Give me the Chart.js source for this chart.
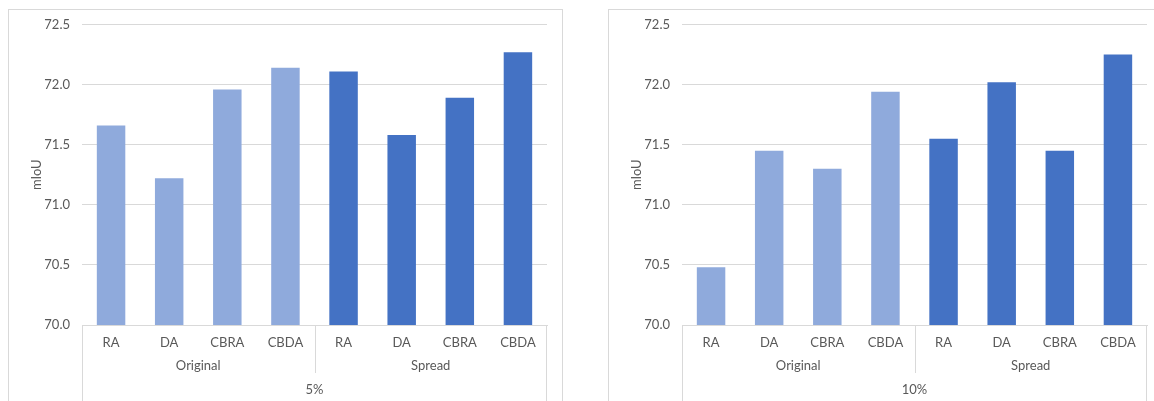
<!DOCTYPE html>
<html>
<head>
<meta charset="utf-8">
<script src="https://cdn.jsdelivr.net/npm/chart.js@4"></script>
<style>
  html, body { margin: 0; padding: 0; background: #fff; overflow: hidden; }
  body { width: 1154px; height: 401px; position: relative; }
  .box { position: absolute; top: 9px; border: 1px solid #d9d9d9; background: #fff; }
  #box5 { left: 8px; }
  #box10 { left: 608px; }
  canvas { display: block; }
</style>
</head>
<body>
<div class="box" id="box5"><canvas id="chart5" width="553" height="400"></canvas></div>
<div class="box" id="box10"><canvas id="chart10" width="553" height="400"></canvas></div>
<script>
const methods = ['RA', 'DA', 'CBRA', 'CBDA']
const groups = ['Original', 'Spread']
const rates = ['5%', '10%']

const original5 = [71.66, 71.22, 71.96, 72.14]
const spread5 = [72.11, 71.58, 71.89, 72.27]
const original10 = [70.48, 71.45, 71.30, 71.94]
const spread10 = [71.55, 72.02, 71.45, 72.25]

const yTicks = { min: 70, max: 72.5, step: 0.5 }

const textColor = '#595959'
const lineColor = '#d9d9d9'
const fontFamily = 'Lato, "Open Sans", sans-serif'

Chart.defaults.font.family = fontFamily
Chart.defaults.font.size = 13
Chart.defaults.color = textColor

// second and third rows of the category axis (group name, then rate)
const groupAxis = {
  id: 'groupAxis',
  afterDraw(chart, args, opts) {
    const x = chart.scales.x
    const c = chart.ctx
    const top = x.top
    const n = methods.length
    c.save()
    c.strokeStyle = lineColor
    c.lineWidth = 1
    // outer edges run the full depth of the axis
    c.beginPath()
    c.moveTo(Math.round(x.left) + 0.5, top)
    c.lineTo(Math.round(x.left) + 0.5, chart.height)
    c.moveTo(Math.round(x.right) - 0.5, top)
    c.lineTo(Math.round(x.right) - 0.5, chart.height)
    // separators between groups
    for (let g = 1; g < groups.length; g++) {
      const sx = (x.getPixelForValue(g * n - 1) + x.getPixelForValue(g * n)) / 2
      c.moveTo(Math.round(sx) + 0.5, top)
      c.lineTo(Math.round(sx) + 0.5, top + 48)
    }
    c.stroke()

    c.fillStyle = textColor
    c.font = '13px ' + fontFamily
    c.textAlign = 'center'
    c.textBaseline = 'middle'
    groups.forEach((name, g) => {
      const cx = (x.getPixelForValue(g * n) + x.getPixelForValue(g * n + n - 1)) / 2
      c.fillText(name, cx, top + 41)
    })
    c.fillText(opts.rate, (x.left + x.right) / 2, top + 65)
    c.restore()
  }
}

function makeChart(id, original, spread, rate) {
  const labels = groups.flatMap(() => methods)
  const pad = methods.map(() => null)
  return new Chart(document.getElementById(id), {
    type: 'bar',
    data: {
      labels,
      datasets: [
        {
          label: groups[0],
          data: original.concat(pad),
          backgroundColor: '#8faadc'
        },
        {
          label: groups[1],
          data: pad.concat(spread),
          backgroundColor: '#4472c4'
        }
      ]
    },
    options: {
      responsive: false,
      animation: false,
      grouped: false,
      categoryPercentage: 1,
      barPercentage: 0.49,
      layout: { padding: { top: 14.5, right: 15, bottom: 0, left: 0 } },
      plugins: {
        legend: { display: false },
        tooltip: { enabled: false },
        groupAxis: { rate }
      },
      scales: {
        x: {
          grid: { display: false },
          border: { display: true, color: lineColor, width: 1 },
          ticks: { padding: 2, maxRotation: 0, autoSkip: false, color: textColor },
          afterFit(scale) { scale.height = 85 }
        },
        y: {
          min: yTicks.min,
          max: yTicks.max,
          border: { display: false },
          grid: { color: lineColor, drawTicks: false },
          ticks: {
            stepSize: yTicks.step,
            padding: 12,
            color: textColor,
            callback: v => v.toFixed(1)
          },
          title: {
            display: true,
            text: 'mIoU',
            color: textColor,
            padding: { top: 20, bottom: 0 }
          },
          afterFit(scale) {
            scale.width = 73
            scale.paddingTop = 4
            scale.paddingBottom = 4
          }
        }
      }
    },
    plugins: [groupAxis]
  })
}

makeChart('chart5', original5, spread5, rates[0])
makeChart('chart10', original10, spread10, rates[1])
</script>
</body>
</html>
